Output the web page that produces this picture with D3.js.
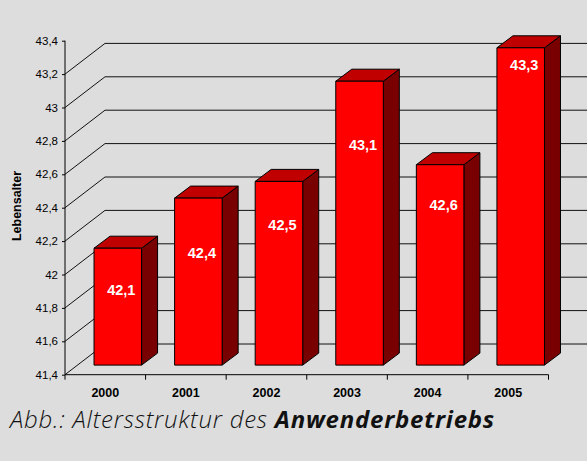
<!DOCTYPE html>
<html>
<head>
<meta charset="utf-8">
<script src="https://cdn.jsdelivr.net/npm/d3@7"></script>
<style>
  body { margin: 0; background: #dddddd; }
  svg { display: block; }
</style>
</head>
<body>
<svg></svg>
<script>
// Data
const years = ["2000", "2001", "2002", "2003", "2004", "2005"];
const ages = [42.1, 42.4, 42.5, 43.1, 42.6, 43.3];
const yTicks = [41.4, 41.6, 41.8, 42, 42.2, 42.4, 42.6, 42.8, 43, 43.2, 43.4];
const yTitle = "Lebensalter";
const captionPlain = "Abb.: Altersstruktur des ";
const captionBold = "Anwenderbetriebs";

const width = 587, height = 461;
const svg = d3.select("svg").attr("width", width).attr("height", height);

svg.append("rect").attr("width", width).attr("height", height).attr("fill", "#dddddd");

// Scales
const xScale = d3.scaleBand().domain(years).range([65, 548.5]);
const yScale = d3.scaleLinear().domain([41.4, 43.4]).range([374.7, 40.7]);

// 3d offsets
const depth = { dx: 40, dy: -30.7 };
const barShift = { dx: 12.5, dy: -9.6 };
const barDepth = { dx: 16, dy: -12 };
const barW = xScale.bandwidth() * 0.59;

const fmt = v => String(+v.toFixed(1)).replace(".", ",");

// Back wall grid + diagonals
const grid = svg.append("g").attr("fill", "none").attr("stroke", "#111").attr("stroke-width", 1);
yTicks.filter(t => t < 43.4).forEach(t => {
    const y = yScale(t);
    grid.append("path")
        .attr("d", `M${xScale.range()[0]},${y}L${xScale.range()[0] + depth.dx},${y + depth.dy}L${width},${y + depth.dy}`);
});

// Bars
const bars = svg.append("g").attr("stroke", "#000").attr("stroke-width", 1).attr("stroke-linejoin", "round");
years.forEach((yr, i) => {
    const x0 = xScale(yr) + xScale.bandwidth() / 2 - barW / 2 + barShift.dx;
    const x1 = x0 + barW;
    const yTop = yScale(ages[i]) + barShift.dy;
    const yBot = yScale(41.4) + barShift.dy;
    const dx = barDepth.dx, dy = barDepth.dy;
    // side
    bars.append("path")
        .attr("d", `M${x1},${yTop}L${x1 + dx},${yTop + dy}L${x1 + dx},${yBot + dy}L${x1},${yBot}Z`)
        .attr("fill", "#780000");
    // top
    bars.append("path")
        .attr("d", `M${x0},${yTop}L${x0 + dx},${yTop + dy}L${x1 + dx},${yTop + dy}L${x1},${yTop}Z`)
        .attr("fill", "#c00000");
    // front
    bars.append("rect")
        .attr("x", x0).attr("y", yTop)
        .attr("width", barW).attr("height", yBot - yTop)
        .attr("fill", "#ff0000");
});

// Value labels (placed at a value level on the front face)
const labelLevel = [41.85, 42.07, 42.24, 42.72, 42.36, 43.2];
svg.append("g").selectAll("text")
    .data(ages)
    .join("text")
    .attr("x", (d, i) => xScale(years[i]) + xScale.bandwidth() / 2 + barShift.dx + 3.5)
    .attr("y", (d, i) => yScale(labelLevel[i]) + barShift.dy)
    .attr("dy", "0.36em")
    .attr("text-anchor", "middle")
    .attr("fill", "#ffffff")
    .style("font", "bold 14.5px Arial, 'Liberation Sans', sans-serif")
    .text(d => fmt(d));

// Y axis
svg.append("g")
    .attr("transform", `translate(${xScale.range()[0]},0)`)
    .call(d3.axisLeft(yScale).tickValues(yTicks).tickSize(3).tickPadding(4).tickFormat(fmt))
    .call(g => g.select(".domain").attr("stroke", "#000").attr("d", `M0,${yScale(41.4)}V${yScale(43.4)}`))
    .call(g => g.selectAll(".tick line").attr("stroke", "#000"))
    .call(g => g.selectAll("text").attr("fill", "#000")
        .style("font", "11.5px Arial, 'Liberation Sans', sans-serif"));

// X axis (ticks at category boundaries)
const xa = svg.append("g").attr("stroke", "#000");
const yb = yScale(41.4);
xa.append("line").attr("x1", xScale.range()[0]).attr("x2", xScale.range()[1]).attr("y1", yb).attr("y2", yb);
const bounds = years.map(y => xScale(y)).concat([xScale.range()[1]]);
xa.selectAll(".tk").data(bounds).join("line")
    .attr("x1", d => d).attr("x2", d => d)
    .attr("y1", yb).attr("y2", yb + 5);
svg.append("g").selectAll("text").data(years).join("text")
    .attr("x", d => xScale(d) + xScale.bandwidth() / 2)
    .attr("y", 397)
    .attr("text-anchor", "middle")
    .style("font", "bold 12.5px Arial, 'Liberation Sans', sans-serif")
    .text(d => d);

// Y title
svg.append("text")
    .attr("transform", "translate(21,206) rotate(-90)")
    .attr("text-anchor", "middle")
    .style("font", "bold 12.5px Arial, 'Liberation Sans', sans-serif")
    .text(yTitle);

// Caption: fit to the reference width, mostly via font size
const capWidth = 485;
const cap = svg.append("text")
    .attr("x", 10).attr("y", 428)
    .style("font-family", "'Open Sans', sans-serif")
    .style("font-style", "italic")
    .style("font-size", "21px")
    .attr("fill", "#111");
cap.append("tspan").style("font-weight", 300).text(captionPlain);
cap.append("tspan").style("font-weight", 700).text(captionBold);
let w = cap.node().getComputedTextLength();
const fs = Math.min(24, 21 * capWidth / w);
cap.style("font-size", fs + "px");
w = cap.node().getComputedTextLength();
const nChars = (captionPlain + captionBold).length;
cap.style("letter-spacing", ((capWidth - w) / nChars) + "px");
</script>
</body>
</html>
